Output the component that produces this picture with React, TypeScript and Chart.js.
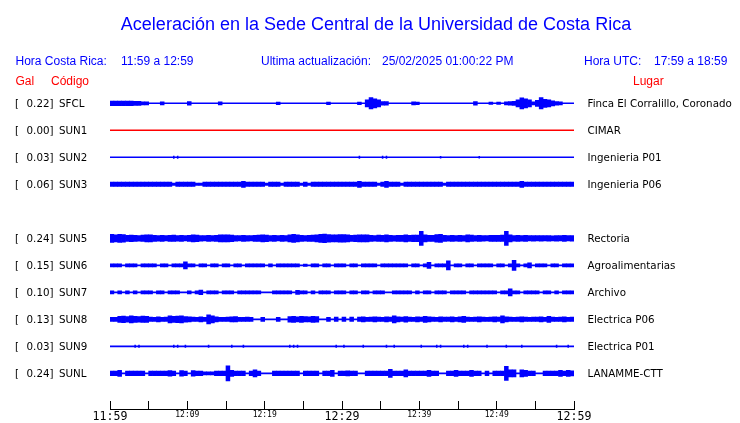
import React, { useEffect, useRef } from "react";
import { Chart, registerables } from "chart.js";

Chart.register(...registerables);

// ---------- texts ----------
const TITLE = "Aceleración en la Sede Central de la Universidad de Costa Rica";
const LOCAL_LABEL = "Hora Costa Rica:";
const LOCAL_RANGE = "11:59 a 12:59";
const UPDATED_LABEL = "Ultima actualización:";
const UPDATED = "25/02/2025 01:00:22 PM";
const UTC_LABEL = "Hora UTC:";
const UTC_RANGE = "17:59 a 18:59";

// ---------- stations ----------
const CODES = ["SFCL", "SUN1", "SUN2", "SUN3", "SUN5", "SUN6", "SUN7", "SUN8", "SUN9", "SUNL"];
const ROWS = [0, 1, 2, 3, 5, 6, 7, 8, 9, 10];
const GALS = ["0.22", "0.00", "0.03", "0.06", "0.24", "0.15", "0.10", "0.13", "0.03", "0.24"];
const PLACES = [
  "Finca El Corralillo, Coronado",
  "CIMAR",
  "Ingenieria P01",
  "Ingenieria P06",
  "Rectoria",
  "Agroalimentarias",
  "Archivo",
  "Electrica P06",
  "Electrica P01",
  "LANAMME-CTT",
];
const TRACE_COLORS = ["#0000ff", "#ff0000", "#0000ff", "#0000ff", "#0000ff", "#0000ff", "#0000ff", "#0000ff", "#0000ff", "#0000ff"];

// ---------- time axis (minutes after 11:59) ----------
const TICK_MINUTES = [0, 5, 10, 15, 20, 25, 30, 35, 40, 45, 50, 55, 60];
const TICK_LABELS = ["11:59", "", "12:09", "", "12:19", "", "12:29", "", "12:39", "", "12:49", "", "12:59"];
const TICK_MAJOR = [true, false, false, false, false, false, true, false, false, false, false, false, true];

// ---------- envelopes: 120 bins of 0.5 min, half amplitude (27 units = row spacing) ----------
const BIN_MINUTES = 0.5;
const AMP_UNITS_PER_ROW = 27;

const SFCL = [
  2.3, 2.3, 2.3, 2.3, 2.3, 2.3, 2, 2, 1.5, 1.5,
  0, 0, 0, 1.5, 0, 0, 0, 0, 0, 0,
  1.8, 0, 0, 0, 0, 0, 0, 0, 1.5, 0,
  0, 0, 0, 0, 0, 0, 0, 0, 0, 0,
  0, 0, 0, 1.3, 0, 0, 0, 0, 0, 0,
  0, 0, 0, 0, 0, 0, 1.3, 0, 0, 0,
  0, 0, 0, 0, 1.3, 0, 3.5, 5.7, 4.5, 3.5,
  1.8, 1.8, 0, 0, 0, 0, 0, 0, 1.5, 1.3,
  0, 0, 0, 0, 0, 0, 0, 0, 0, 0,
  0, 0, 0, 0, 1.8, 0, 0, 0, 1.2, 0,
  1.2, 0, 1.5, 1.8, 2, 3.5, 5.5, 4.5, 3.5, 1.5,
  3, 5.7, 4, 3.5, 2.5, 1.8, 1.5, 0, 0, 0,
];
const SUN1 = [
  0, 0, 0, 0, 0, 0, 0, 0, 0, 0, 0, 0, 0, 0, 0, 0, 0, 0, 0, 0,
  0, 0, 0, 0, 0, 0, 0, 0, 0, 0, 0, 0, 0, 0, 0, 0, 0, 0, 0, 0,
  0, 0, 0, 0, 0, 0, 0, 0, 0, 0, 0, 0, 0, 0, 0, 0, 0, 0, 0, 0,
  0, 0, 0, 0, 0, 0, 0, 0, 0, 0, 0, 0, 0, 0, 0, 0, 0, 0, 0, 0,
  0, 0, 0, 0, 0, 0, 0, 0, 0, 0, 0, 0, 0, 0, 0, 0, 0, 0, 0, 0,
  0, 0, 0, 0, 0, 0, 0, 0, 0, 0, 0, 0, 0, 0, 0, 0, 0, 0, 0, 0,
];
const SUN2 = [
  0, 0, 0, 0, 0, 0, 0, 0, 0, 0,
  0, 0, 0, 0, 0, 0, 1.5, 1.5, 0, 0,
  0, 0, 0, 0, 0, 0, 0, 0, 0, 0,
  0, 0, 0, 0, 0, 0, 0, 0, 0, 0,
  0, 0, 0, 0, 0, 0, 0, 0, 0, 0,
  0, 0, 0, 0, 0, 0, 0, 0, 0, 0,
  0, 0, 0, 0, 1.5, 0, 0, 0, 0, 0,
  1.5, 1.5, 0, 0, 0, 0, 0, 0, 0, 0,
  0, 0, 0, 0, 0, 1.3, 0, 0, 0, 0,
  0, 0, 0, 0, 0, 1.3, 0, 0, 0, 0,
  0, 0, 0, 0, 0, 0, 0, 0, 0, 0,
  0, 0, 0, 0, 0, 0, 0, 0, 0, 0,
];
const SUN3 = [
  2.2, 2.2, 2.2, 2.2, 2.2, 2.2, 2.2, 2.2, 2.2, 2.2,
  2.2, 2.2, 2.2, 2.2, 2.2, 2.2, 1.2, 2.2, 2.2, 2.2,
  2.2, 2.2, 1.2, 1.2, 2.2, 2.2, 2.2, 2.2, 2.2, 2.2,
  2.2, 2.2, 2.2, 2.2, 3, 2.2, 2.2, 2.2, 2.2, 2.2,
  1.2, 2.2, 2.2, 2.2, 1.2, 2.2, 2.2, 2.2, 2.2, 1.2,
  2.2, 1.2, 2.2, 2.2, 2.2, 2.2, 2.2, 2.2, 2.2, 2.2,
  2.2, 2.2, 2.2, 2.2, 3, 2.2, 2.2, 2.2, 2.2, 1.2,
  2.2, 3, 2.2, 2.2, 2.2, 1.2, 2.2, 2.2, 2.2, 2.2,
  2.2, 2.2, 2.2, 2.2, 2.2, 2.2, 1.2, 2.2, 2.2, 2.2,
  2.2, 2.2, 2.2, 2.2, 2.2, 2.2, 2.2, 2.2, 2.2, 2.2,
  2.2, 2.2, 2.2, 2.2, 2.2, 2.2, 3, 2.2, 2.2, 2.2,
  2.2, 2.2, 2.2, 2.2, 2.2, 2.2, 2.2, 2.2, 2.2, 2.2,
];
const SUN5 = [
  4, 3.5, 4, 3.8, 3, 3.3, 3, 2.8, 3.2, 3.5,
  3.5, 3, 2.8, 3, 2.7, 3, 3.2, 2.8, 3, 2.7,
  3, 3.5, 3.3, 2.8, 2.7, 3, 2.8, 3, 3.5, 3.5,
  3.5, 3.3, 2.8, 2.7, 3, 2.8, 2.7, 3, 3.2, 3.5,
  3.3, 2.8, 3, 2.7, 3, 2.8, 3.5, 4, 3.5, 3,
  2.8, 3, 3.2, 3.5, 4, 4.3, 3.8, 3.5, 3.5, 3.8,
  3.8, 3.5, 3, 3.3, 3.5, 3.5, 3.5, 3, 2.8, 3.2,
  3, 3.5, 3, 2.8, 3, 3, 3.5, 3, 3.3, 3.3,
  7, 3.5, 3, 3, 3.8, 4, 3, 2.8, 3, 2.8,
  3, 2.8, 3.5, 3.2, 2.8, 3, 2.8, 2.7, 3, 3,
  3, 3.2, 7, 3.5, 2.8, 3, 2.8, 3, 2.7, 2.8,
  2.7, 2.8, 2.7, 2.8, 2.6, 2.8, 2.7, 3, 2.7, 2.8,
];
const SUN6 = [
  1.6, 1.6, 1.6, 0, 1.6, 1.6, 1.6, 0, 1.6, 1.6,
  1.6, 1.6, 0, 1.6, 1.6, 0, 1.6, 1.6, 1.6, 3.6,
  1.6, 1.6, 0, 1.6, 1.6, 0, 1.6, 1.6, 0, 1.6,
  1.6, 0, 1.6, 1.6, 0, 1.6, 1.6, 1.6, 1.6, 1.6,
  0, 1.6, 0, 1.6, 1.6, 1.6, 1.6, 1.6, 1.6, 0,
  1.2, 0, 1.6, 1.6, 0, 1.6, 1.6, 0, 1.6, 1.6,
  1.6, 0, 1.6, 1.6, 0, 1.6, 1.6, 1.6, 1.6, 0,
  1.6, 1.6, 1.6, 1.6, 1.6, 1.6, 1.6, 0, 1.6, 1.6,
  0, 1.6, 3, 0, 1.6, 1.6, 1.6, 4.5, 0, 1.6,
  1.6, 0, 1.6, 1.6, 0, 1.6, 1.6, 1.6, 1.6, 0,
  1.6, 1.6, 0, 1.6, 5, 1.6, 0, 1.6, 2.5, 0,
  1.6, 1.6, 1.6, 0, 1.6, 1.6, 0, 1.6, 1.6, 1.6,
];
const SUN7 = [
  1.5, 0, 1.5, 0, 1.5, 0, 1.5, 0, 1.5, 1.5,
  1.5, 0, 1.5, 1.5, 0, 1.5, 1.5, 1.5, 0, 0,
  1.5, 0, 1.5, 2.3, 0, 1.5, 1.5, 1.5, 0, 1.5,
  1.5, 1.5, 0, 1.5, 1.5, 1.5, 1.5, 1.5, 1.5, 0,
  0, 0, 1.5, 1.5, 1.5, 1.5, 1.5, 0, 2, 1.5,
  1.5, 0, 1.5, 0, 1.5, 1.5, 1.5, 0, 1.5, 1.5,
  1.5, 0, 1.5, 1.5, 0, 1.5, 1.5, 0, 1.5, 1.5,
  1.5, 0, 0, 1.5, 1.5, 1.5, 1.5, 1.5, 0, 1.5,
  0, 1.5, 1.5, 0, 1.5, 1.5, 1.5, 0, 1.5, 1.5,
  1.5, 1.5, 0, 1.5, 1.5, 1.5, 1.5, 1.5, 1.5, 1.5,
  0, 1.5, 1.5, 3.5, 1.5, 1.5, 0, 1.5, 1.5, 1.5,
  1.5, 0, 1.5, 1.5, 0, 1.5, 0, 1.5, 1.5, 1.5,
];
const SUN8 = [
  2, 2, 3, 3.3, 2.8, 3.5, 3, 2.8, 3.2, 3,
  2.2, 2, 2.5, 2, 2.2, 3.5, 3, 3.3, 3.5, 2.8,
  2.5, 2.2, 2, 2.5, 2, 4.5, 3.5, 2.5, 2, 2,
  2.2, 2.5, 2.7, 2, 2, 2.2, 2, 0, 0, 2,
  0, 0, 0, 2, 0, 0, 2.8, 3, 2.5, 3,
  2.7, 2.5, 3, 2.8, 0, 0, 2, 0, 2.2, 0,
  2.2, 0, 2.2, 0, 2.2, 2.5, 2, 2.2, 2.5, 2.2,
  2, 2.5, 2.2, 3.5, 2.5, 2.2, 2.8, 2.2, 2, 2.5,
  2.2, 3, 2.5, 2.2, 2, 2.5, 2.2, 2.2, 2.5, 2,
  2.5, 3, 2.2, 2, 2.2, 2.5, 2.2, 2, 2.2, 2.5,
  2.2, 3.5, 2.5, 2.2, 2, 2.2, 2.5, 2.2, 2, 2.2,
  2.2, 2.5, 2, 3, 2.2, 2, 2.2, 2.5, 2, 2.2,
];
const SUN9 = [
  0, 0, 0, 0, 0, 0, 1.5, 1.5, 0, 0,
  0, 0, 0, 0, 0, 0, 1.5, 1.5, 0, 1.5,
  0, 0, 0, 0, 0, 1.5, 0, 0, 0, 0,
  0, 1.5, 0, 0, 1.5, 0, 0, 0, 0, 0,
  0, 0, 0, 0, 0, 0, 1.5, 1.5, 1.5, 0,
  0, 0, 0, 0, 0, 0, 0, 0, 1.5, 0,
  1.5, 0, 0, 0, 0, 1.5, 0, 0, 0, 0,
  0, 1.5, 0, 1.5, 0, 0, 0, 0, 0, 0,
  1.5, 0, 0, 0, 1.5, 1.5, 0, 0, 0, 0,
  0, 1.5, 1.5, 0, 0, 0, 0, 1.5, 0, 0,
  0, 0, 1.5, 0, 0, 0, 1.5, 0, 0, 0,
  0, 0, 0, 0, 0, 1.5, 0, 0, 1.5, 0,
];
const SUNL = [
  2.3, 2.3, 3, 0, 2.3, 2.3, 2.3, 2.3, 2.3, 0,
  2.3, 2.3, 2.3, 2.3, 2.3, 2.8, 2.3, 0, 2.8, 2.3,
  0, 2.8, 2.3, 2.3, 1.5, 1.5, 1.5, 2.3, 2.3, 2.3,
  7.5, 3, 2.3, 2.3, 2.3, 0, 2.3, 3.5, 2.3, 0,
  0, 0, 2.3, 2.3, 2.3, 2.3, 2.3, 2.3, 2.3, 0,
  2.3, 2.3, 2.3, 2.3, 0, 2.3, 2.3, 3, 0, 2.3,
  2.3, 2.5, 2.3, 2.3, 0, 0, 2.3, 2.3, 2.3, 2.3,
  2.3, 2.3, 4, 2.3, 2.3, 2.3, 3.5, 2.3, 2.3, 2.3,
  2.3, 2.3, 3, 2.3, 2.3, 0, 0, 2.3, 2.3, 3,
  2.3, 2.3, 2.3, 3, 2.3, 2.3, 0, 2.3, 0, 2.3,
  2.3, 2.3, 7, 3.5, 3.5, 0, 3.5, 3, 2.3, 2.3,
  0, 0, 2.3, 2.3, 2.3, 2.3, 3, 2.3, 3, 2.5,
];
const TRACES = [SFCL, SUN1, SUN2, SUN3, SUN5, SUN6, SUN7, SUN8, SUN9, SUNL];
// fraction of a bin covered by each station's marks (spiky stations have narrow ticks)
const BAR_FRACTION = [1, 1, 0.4, 1, 1, 1, 1, 1, 0.4, 1];

const TOTAL_MINUTES = 60;

const BLUE = "#0000ff";
const RED = "#ff0000";
const HEAD_FONT = '"Liberation Sans", Arial, sans-serif';
const LABEL_FONT = '"DejaVu Sans", sans-serif';
const MONO_FONT = '"DejaVu Sans Mono", monospace';

const textPlugin = {
  id: "seismoText",
  afterDraw(chart: any) {
    const ctx = chart.ctx as CanvasRenderingContext2D;
    const y = chart.scales.y;
    ctx.save();
    ctx.textBaseline = "alphabetic";

    ctx.fillStyle = BLUE;
    ctx.font = `18px ${HEAD_FONT}`;
    ctx.textAlign = "center";
    ctx.fillText(TITLE, 376, 29.5);

    ctx.font = `12px ${HEAD_FONT}`;
    ctx.textAlign = "left";
    ctx.fillText(LOCAL_LABEL, 15.5, 65);
    ctx.fillText(LOCAL_RANGE, 121, 65);
    ctx.fillText(UPDATED_LABEL, 261, 65);
    ctx.fillText(UPDATED, 382, 65);
    ctx.fillText(UTC_LABEL, 584, 65);
    ctx.fillText(UTC_RANGE, 654, 65);

    ctx.fillStyle = RED;
    ctx.fillText("Gal", 15.5, 84.5);
    ctx.fillText("Código", 51, 84.5);
    ctx.fillText("Lugar", 633, 84.5);

    ctx.fillStyle = "#000";
    ctx.font = `10.3px ${LABEL_FONT}`;
    CODES.forEach((code, k) => {
      const py = y.getPixelForValue(ROWS[k]) + 3.8;
      ctx.textAlign = "left";
      ctx.fillText("[", 15, py);
      ctx.textAlign = "right";
      ctx.fillText(GALS[k] + "]", 53.5, py);
      ctx.textAlign = "left";
      ctx.fillText(code, 59, py);
      ctx.fillText(PLACES[k], 587.5, py);
    });
    ctx.restore();
  },
};

export default function App() {
  const canvasRef = useRef<HTMLCanvasElement | null>(null);

  useEffect(() => {
    if (!canvasRef.current) return;
    const datasets: any[] = [];
    CODES.forEach((code, k) => {
      const row = ROWS[k];
      const color = TRACE_COLORS[k];
      datasets.push({
        type: "line",
        label: code + " base",
        data: [
          { x: 0, y: row },
          { x: TOTAL_MINUTES, y: row },
        ],
        borderColor: color,
        borderWidth: 1.6,
        pointRadius: 0,
        fill: false,
      });
      const bars = TRACES[k]
        .map((a, i) => ({ a, i }))
        .filter((d) => d.a > 0)
        .map((d) => ({
          x: (d.i + 0.5) * BIN_MINUTES,
          y: [row - d.a / AMP_UNITS_PER_ROW, row + d.a / AMP_UNITS_PER_ROW],
        }));
      datasets.push({
        type: "bar",
        label: code,
        data: bars,
        backgroundColor: color,
        borderWidth: 0,
        grouped: false,
        barPercentage: BAR_FRACTION[k],
        categoryPercentage: 1,
      });
    });

    const chart = new Chart(canvasRef.current, {
      type: "bar",
      data: { datasets },
      options: {
        responsive: false,
        animation: false,
        events: [],
        layout: { padding: { left: 110, right: 166, top: 76.3, bottom: 0 } },
        plugins: {
          legend: { display: false },
          tooltip: { enabled: false },
          title: { display: false },
        },
        scales: {
          x: {
            type: "linear",
            min: 0,
            max: TOTAL_MINUTES,
            offset: false,
            afterBuildTicks: (s: any) => {
              s.ticks = TICK_MINUTES.map((v) => ({ value: v }));
            },
            afterFit: (s: any) => {
              s.height = 14;
            },
            grid: {
              offset: false,
              drawOnChartArea: false,
              drawTicks: true,
              tickLength: -8,
              tickColor: "#000",
              tickWidth: 1,
              color: "#000",
            },
            border: { display: true, color: "#000", width: 1 },
            ticks: {
              autoSkip: false,
              maxRotation: 0,
              minRotation: 0,
              padding: 10,
              color: "#000",
              font: (c: any) => {
                const idx = TICK_MINUTES.indexOf(c.tick ? c.tick.value : -1);
                return { family: MONO_FONT, size: TICK_MAJOR[idx] ? 11.6 : 8, lineHeight: 1 };
              },
              callback: (v: any) => {
                const idx = TICK_MINUTES.indexOf(Number(v));
                return idx >= 0 ? TICK_LABELS[idx] : "";
              },
            },
          },
          y: {
            type: "linear",
            display: false,
            reverse: true,
            min: -1,
            max: 11.32,
          },
        },
      } as any,
      plugins: [textPlugin],
    });
    return () => chart.destroy();
  }, []);

  return (
    <div style={{ position: "fixed", left: 0, top: 0, width: 740, height: 423, background: "#fff" }}>
      <canvas ref={canvasRef} width={740} height={423} style={{ display: "block", width: 740, height: 423 }} />
    </div>
  );
}
